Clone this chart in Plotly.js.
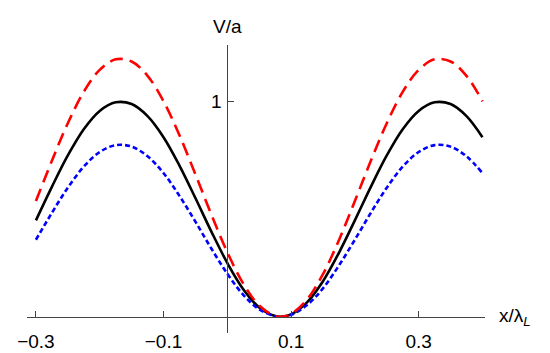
<!DOCTYPE html>
<html>
<head>
<meta charset="utf-8">
<script src="https://cdn.plot.ly/plotly-3.0.1.min.js"></script>
<style>html,body{margin:0;padding:0;background:#fff;}#plot{width:550px;height:353px;}</style>
</head>
<body>
<div id="plot"></div>
<script>
var xPos = [-0.3, -0.275, -0.25, -0.225, -0.2, -0.175, -0.15, -0.125, -0.1, -0.075, -0.05, -0.025, 0, 0.025, 0.05, 0.075, 0.085, 0.1, 0.125, 0.15, 0.175, 0.2, 0.225, 0.25, 0.275, 0.3, 0.325, 0.35, 0.375, 0.4];
var vBlack = [0.448, 0.604, 0.750, 0.872, 0.957, 0.997, 0.989, 0.933, 0.835, 0.703, 0.552, 0.396, 0.250, 0.128, 0.043, 0.003, 0.000, 0.011, 0.067, 0.165, 0.297, 0.448, 0.604, 0.750, 0.872, 0.957, 0.997, 0.989, 0.933, 0.835];
var vRed = [0.538, 0.725, 0.900, 1.046, 1.148, 1.197, 1.187, 1.120, 1.002, 0.844, 0.662, 0.475, 0.300, 0.154, 0.052, 0.003, 0.000, 0.013, 0.080, 0.198, 0.356, 0.538, 0.725, 0.900, 1.046, 1.148, 1.197, 1.187, 1.120, 1.002];
var vBlue = [0.358, 0.483, 0.600, 0.698, 0.766, 0.798, 0.791, 0.746, 0.668, 0.562, 0.442, 0.317, 0.200, 0.102, 0.034, 0.002, 0.000, 0.009, 0.054, 0.132, 0.238, 0.358, 0.483, 0.600, 0.698, 0.766, 0.798, 0.791, 0.746, 0.668];
var xTicks = [-0.3, -0.1, 0.1, 0.3];
var xTickText = ['\u22120.3', '\u22120.1', '0.1', '0.3'];
var yTicks = [1];
var yTickText = ['1'];

var xr = [-0.314, 0.404];
var yr = [-0.0758, 1.2637];

var traces = [
  {x: xPos, y: vBlack, mode: 'lines', line: {color: '#000000', width: 2.6, shape: 'spline'}, hoverinfo: 'skip'},
  {x: xPos, y: vBlue, mode: 'lines', line: {color: '#0000ff', width: 2.6, dash: '5px,3px', shape: 'spline'}, hoverinfo: 'skip'},
  {x: xPos, y: vRed, mode: 'lines', line: {color: '#ff0000', width: 2.6, dash: '13px,7px', shape: 'spline'}, hoverinfo: 'skip'}
];

var fontBase = {family: 'Liberation Sans, Arial, sans-serif', size: 19, color: '#000'};

var layout = {
  width: 550, height: 353,
  margin: {l: 27, r: 65, t: 45, b: 20},
  paper_bgcolor: '#fff', plot_bgcolor: '#fff',
  showlegend: false,
  xaxis: {
    range: xr, anchor: 'free', position: (0 - yr[0]) / (yr[1] - yr[0]),
    showgrid: false, zeroline: false, showline: true, linecolor: '#444', linewidth: 1,
    ticks: 'inside', ticklen: 6, tickcolor: '#444', tickwidth: 1,
    tickvals: xTicks, ticktext: xTickText, tickfont: fontBase, ticklabelstandoff: 7
  },
  yaxis: {
    range: yr, anchor: 'free', position: (0 - xr[0]) / (xr[1] - xr[0]),
    showgrid: false, zeroline: false, showline: true, linecolor: '#444', linewidth: 1,
    ticks: 'inside', ticklen: 6, tickcolor: '#444', tickwidth: 1,
    tickvals: yTicks, ticktext: yTickText, tickfont: fontBase, ticklabelstandoff: 2
  },
  annotations: [
    {x: 0, y: 1, xref: 'x', yref: 'paper', yanchor: 'bottom', xanchor: 'center', yshift: 6,
     text: 'V/a', showarrow: false, font: fontBase},
    {x: 1, y: 0, xref: 'paper', yref: 'y', xanchor: 'left', yanchor: 'middle', xshift: 12,
     text: 'x/λ<sub><i>L</i></sub>', showarrow: false, font: fontBase}
  ]
};

Plotly.newPlot('plot', traces, layout, {displayModeBar: false, staticPlot: true});
</script>
</body>
</html>
